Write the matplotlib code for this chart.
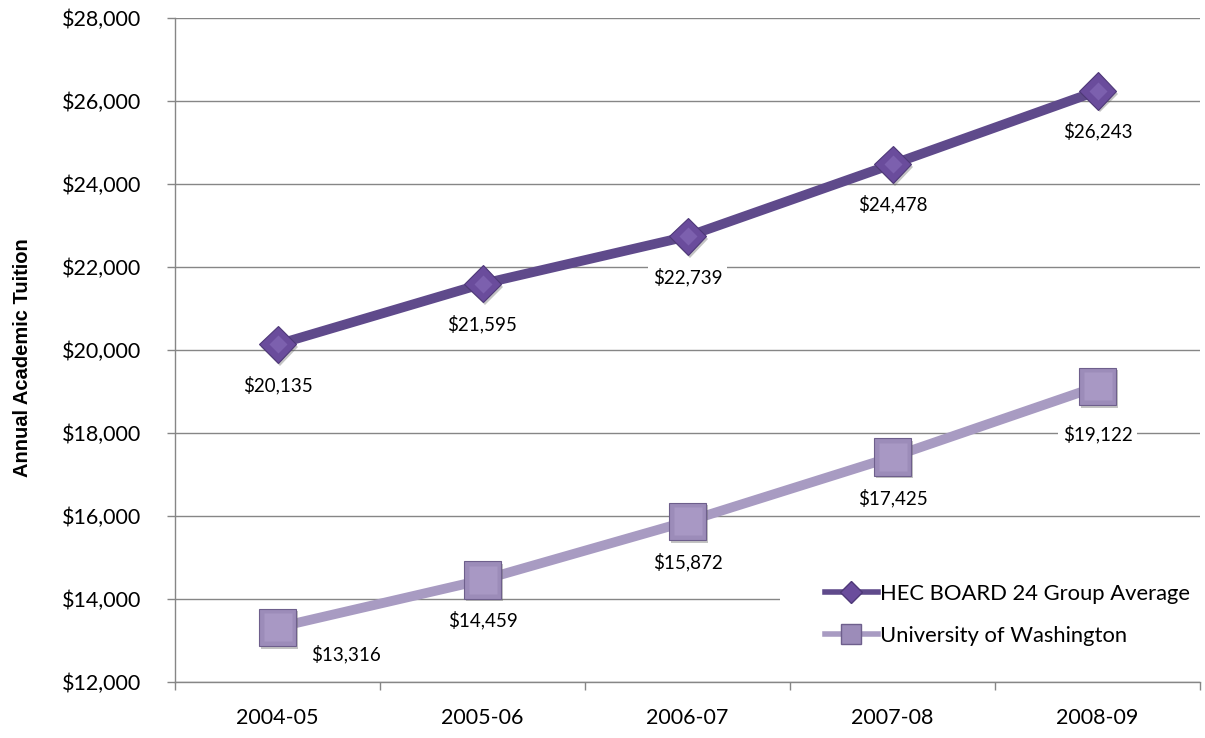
import matplotlib
matplotlib.use("Agg")
import matplotlib.pyplot as plt
import matplotlib.patheffects as pe
from matplotlib.lines import Line2D
from matplotlib.patches import Rectangle

plt.rcParams['font.family'] = ['Lato', 'DejaVu Sans']

categories = ["2004-05", "2005-06", "2006-07", "2007-08", "2008-09"]
hec_values = [20135, 21595, 22739, 24478, 26243]
uw_values = [13316, 14459, 15872, 17425, 19122]
series_names = ["HEC BOARD 24 Group Average", "University of Washington"]
y_ticks = list(range(12000, 28001, 2000))

# label offsets in points (style, not data)
hec_offsets = [(0, -29)] * 5
uw_offsets = [(49, -19), (0, -29), (0, -29), (0, -30), (0, -34)]

W, H = 1205, 738
fig = plt.figure(figsize=(W / 100, H / 100), dpi=100)
ax_l, ax_b, ax_w, ax_h = 175, H - 682, 1025, 664
ax = fig.add_axes([ax_l / W, ax_b / H, ax_w / W, ax_h / H])

def px2ax(x, y):
    return (x - ax_l) / ax_w, ((H - y) - ax_b) / ax_h

grid_c = '#868686'
hec_line = '#5F4A8B'
hec_mark = '#6A4C9C'
uw_line = '#A89BC2'
uw_mark = '#9C8CB9'

xs = list(range(len(categories)))

ax.set_xlim(-0.5, len(categories) - 0.5)
ax.set_ylim(y_ticks[0], y_ticks[-1])
ax.set_yticks(y_ticks)
ax.set_yticklabels([f"${v:,.0f}" for v in y_ticks], fontsize=15.5)
ax.yaxis.grid(True, color=grid_c, lw=1)
ax.set_axisbelow(True)
ax.set_xticks(xs)
ax.set_xticklabels(categories, fontsize=15.5)
ax.set_xticks([x - 0.5 for x in range(len(categories) + 1)], minor=True)
ax.tick_params(axis='x', which='major', length=0, pad=19)
ax.tick_params(axis='x', which='minor', length=6, color=grid_c, width=1)
ax.tick_params(axis='y', length=6, color=grid_c, width=1, pad=18)
for s in ['top', 'right']:
    ax.spines[s].set_visible(False)
for s in ['left', 'bottom']:
    ax.spines[s].set_color(grid_c)
    ax.spines[s].set_linewidth(1)

fig.text(23 / W, 1 - 358 / H, "Annual Academic Tuition", rotation=90, ha='center', va='center',
         fontsize=14.5, fontweight='bold', family=['Liberation Sans', 'DejaVu Sans'])

shadow = [pe.SimplePatchShadow(offset=(1.5, -2), shadow_rgbFace='#555555', alpha=0.35), pe.Normal()]

# lines
ax.plot(xs, hec_values, color=hec_line, lw=7, solid_capstyle='butt', zorder=3)
ax.plot(xs, uw_values, color=uw_line, lw=7, solid_capstyle='butt', zorder=3)

# markers
ax.plot(xs, hec_values, ls='none', marker='D', ms=19, mfc=hec_mark, mec='#4E3878', mew=0.8,
        zorder=4, path_effects=shadow)
ax.plot(xs, hec_values, ls='none', marker='D', ms=9, mfc='#7C60AE', mec='none', zorder=5)
ax.plot(xs, uw_values, ls='none', marker='s', ms=27, mfc=uw_mark, mec='#6E5F8C', mew=0.8,
        zorder=4, path_effects=shadow)
ax.plot(xs, uw_values, ls='none', marker='s', ms=20, mfc='#A898C4', mec='none', zorder=5)

bbox = dict(boxstyle='square,pad=0.25', fc='white', ec='none')
for x, v, off in zip(xs, hec_values, hec_offsets):
    ax.annotate(f"${v:,.0f}", (x, v), xytext=off, textcoords='offset points',
                ha='center', va='center', fontsize=13.5, bbox=bbox, zorder=2)
for x, v, off in zip(xs, uw_values, uw_offsets):
    ax.annotate(f"${v:,.0f}", (x, v), xytext=off, textcoords='offset points',
                ha='center', va='center', fontsize=13.5, bbox=bbox, zorder=2)

# legend background (covers gridlines like the original)
x0, y1 = px2ax(780, 560)
x1, y0 = px2ax(1200, 672)
ax.add_patch(Rectangle((x0, y0), x1 - x0, y1 - y0, transform=ax.transAxes,
                       facecolor='white', edgecolor='none', zorder=2.5))

h1 = Line2D([], [], color=hec_line, lw=4, marker='D', ms=11, mfc=hec_mark, mec='#4E3878')
h2 = Line2D([], [], color=uw_line, lw=4, marker='s', ms=15, mfc=uw_mark, mec='#6E5F8C')
leg = ax.legend([h1, h2], series_names, loc='center left', bbox_to_anchor=px2ax(825, 615),
                fontsize=15.8, frameon=False, handlelength=2.4, handletextpad=0.1,
                labelspacing=1.0, borderpad=0, borderaxespad=0)
leg.set_zorder(6)

fig.savefig("out.png", dpi=100)
